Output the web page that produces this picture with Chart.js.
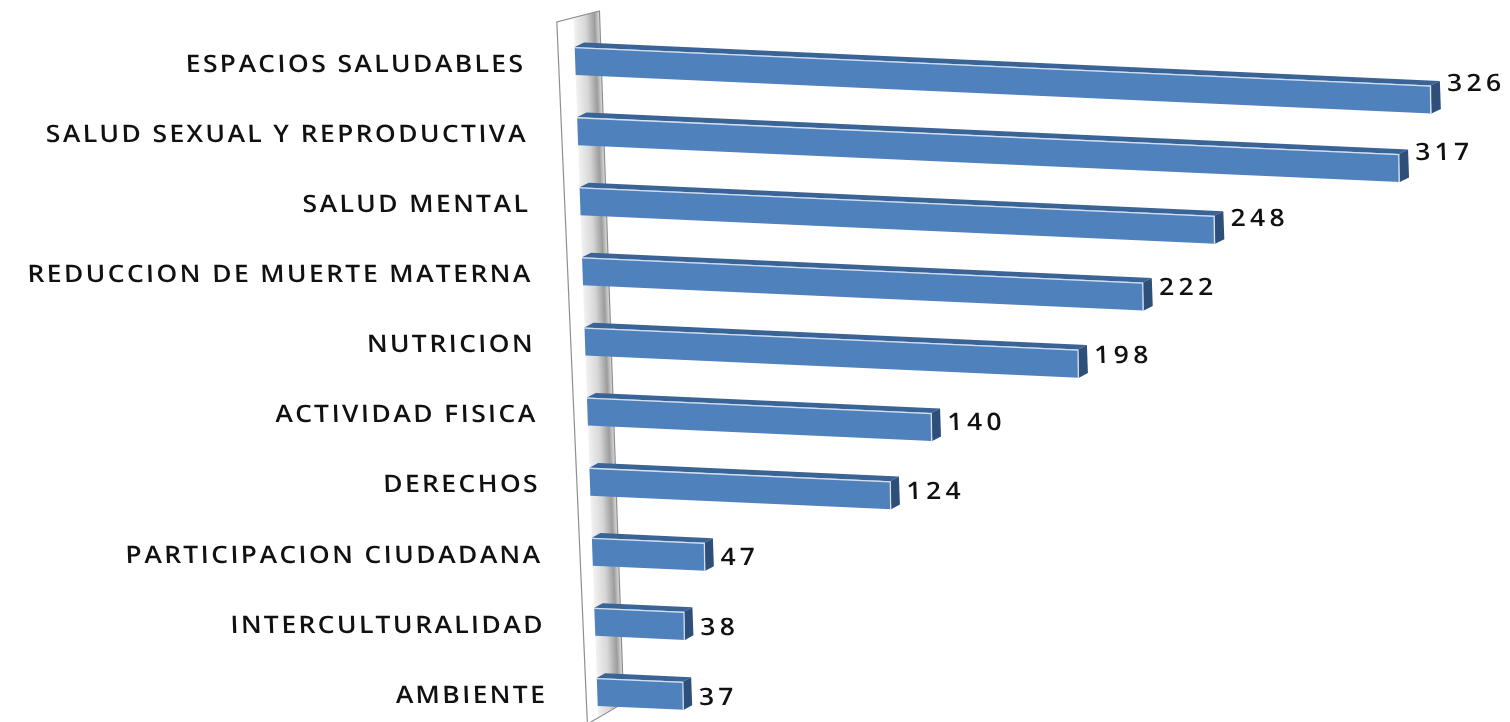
<!DOCTYPE html>
<html><head><meta charset="utf-8">
<script src="https://cdn.jsdelivr.net/npm/chart.js@4.4.1/dist/chart.umd.min.js"></script>
<style>html,body{margin:0;padding:0;background:#fff;overflow:hidden}#wrap{width:1510px;height:722px;overflow:hidden}</style>
</head><body><div id="wrap"><canvas id="c" width="1510" height="740"></canvas></div>
<script>
const categories = [
  'ESPACIOS SALUDABLES',
  'SALUD SEXUAL Y REPRODUCTIVA',
  'SALUD MENTAL',
  'REDUCCION DE MUERTE MATERNA',
  'NUTRICION',
  'ACTIVIDAD FISICA',
  'DERECHOS',
  'PARTICIPACION CIUDADANA',
  'INTERCULTURALIDAD',
  'AMBIENTE'
];
const values = [326, 317, 248, 222, 198, 140, 124, 47, 38, 37];

// visual style constants (3D look)
const SX = 0.035, YREF = 370;      // global horizontal shear (wall slant)
const K = 0.045;                   // bar tilt
const P0 = 1.061, PSTEP = 0.0134;  // perspective per row
const YOFF = -4;                   // bar offset vs label
const DX = 9, DY = 5;              // depth of bar
const STRETCH = 1.1;               // horizontal text stretch
const FRONT = '#4F81BD', TOP = '#3A6396', SIDE = '#2E4F7A';
const FONT = "'Open Sans', 'Liberation Sans', Arial, sans-serif";

const shearPlugin = {
  id: 'shear',
  beforeDraw(chart) {
    const ctx = chart.ctx;
    ctx.save();
    ctx.transform(1, 0, SX, 1, -SX * YREF, 0);
    ctx.save();
    const lx = chart.chartArea.left - 50;
    ctx.translate(lx, 0);
    ctx.scale(STRETCH, 1);
    ctx.translate(-lx, 0);
    ctx.letterSpacing = '2.2px';
  },
  beforeDatasetsDraw(chart) { chart.ctx.restore(); },
  afterDraw(chart) { chart.ctx.restore(); }
};

const wallPlugin = {
  id: 'wall',
  beforeDatasetsDraw(chart) {
    const ctx = chart.ctx;
    const base = chart.scales.x.getPixelForValue(0);
    const W = 26;
    const topY = 11, frontTop = 22, frontBot = 722, botRight = 703;
    const yTopAt = frontTop + (topY - frontTop) * (17 / (17 + W));
    const yBotAt = frontBot + (botRight - frontBot) * (11 / (11 + W));
    ctx.save();
    const g = ctx.createLinearGradient(base, 0, base + W, 0);
    g.addColorStop(0, '#f2f2f2');
    g.addColorStop(0.45, '#d6d6d6');
    g.addColorStop(0.8, '#9c9c9c');
    g.addColorStop(0.92, '#c4c4c4');
    g.addColorStop(1, '#e2e2e2');
    ctx.fillStyle = g;
    ctx.beginPath();
    ctx.moveTo(base, yTopAt);
    ctx.lineTo(base + W, topY);
    ctx.lineTo(base + W, botRight);
    ctx.lineTo(base, yBotAt);
    ctx.closePath();
    ctx.fill();
    ctx.strokeStyle = '#8f8f8f';
    ctx.lineWidth = 1.2;
    ctx.beginPath();
    ctx.moveTo(base - 11, frontBot + 2);
    ctx.lineTo(base - 17, frontTop);
    ctx.lineTo(base + W, topY);
    ctx.lineTo(base + W, botRight);
    ctx.lineTo(base - 11, frontBot + 2);
    ctx.stroke();
    ctx.restore();
  },
  beforeDatasetDraw(chart, args) {
    const ctx = chart.ctx;
    args.meta.data.forEach((el, i) => {
      const { x, y, base, height } = el.getProps(['x', 'y', 'base', 'height'], true);
      const p = P0 - PSTEP * i;
      const t = y - height / 2, b = y + height / 2;
      ctx.save();
      ctx.translate(base, y + YOFF);
      ctx.transform(p, K * p, 0, 1, 0, 0);
      ctx.translate(-base, -y);
      ctx.fillStyle = TOP;
      ctx.beginPath();
      ctx.moveTo(base, t); ctx.lineTo(base + DX, t - DY);
      ctx.lineTo(x + DX, t - DY); ctx.lineTo(x, t); ctx.closePath(); ctx.fill();
      el.draw(ctx);
      ctx.fillStyle = SIDE;
      ctx.beginPath();
      ctx.moveTo(x, t); ctx.lineTo(x + DX, t - DY);
      ctx.lineTo(x + DX, b - DY); ctx.lineTo(x, b); ctx.closePath(); ctx.fill();
      ctx.strokeStyle = 'rgba(255,255,255,0.75)';
      ctx.lineWidth = 1.3;
      ctx.beginPath();
      ctx.moveTo(base, t + 0.6); ctx.lineTo(x, t + 0.6); ctx.lineTo(x - 0.6, b);
      ctx.stroke();
      ctx.restore();
    });
    return false;
  },
  afterDatasetsDraw(chart) {
    const ctx = chart.ctx;
    const meta = chart.getDatasetMeta(0);
    meta.data.forEach((el, i) => {
      const { x, y, base } = el.getProps(['x', 'y', 'base'], true);
      const p = P0 - PSTEP * i;
      const len = p * (x - base);
      ctx.save();
      ctx.translate(base + len + DX * p + 7, y + 0.5 * K * len);
      ctx.scale(STRETCH, 1);
      ctx.font = '600 24px ' + FONT;
      ctx.letterSpacing = '4px';
      ctx.fillStyle = '#111';
      ctx.textAlign = 'left';
      ctx.textBaseline = 'middle';
      ctx.fillText(String(values[i]), 0, 0);
      ctx.restore();
    });
  }
};

new Chart(document.getElementById('c'), {
  type: 'bar',
  data: {
    labels: categories,
    datasets: [{
      data: values,
      backgroundColor: FRONT,
      borderWidth: 0,
      barPercentage: 0.4,
      categoryPercentage: 1
    }]
  },
  options: {
    indexAxis: 'y',
    responsive: false,
    devicePixelRatio: 1,
    animation: false,
    layout: { padding: { left: 0, right: 10, top: 30, bottom: 9 } },
    plugins: { legend: { display: false }, tooltip: { enabled: false } },
    scales: {
      x: { display: false, min: 0, max: 370 },
      y: {
        grid: { display: false, drawTicks: true, tickLength: 80 },
        border: { display: false },
        ticks: { padding: -30, autoSkip: false, color: '#111', font: { family: FONT, size: 24, weight: 600 } },
        afterFit(s) { s.width = 586; }
      }
    }
  },
  plugins: [shearPlugin, wallPlugin]
});
</script>
</body></html>
